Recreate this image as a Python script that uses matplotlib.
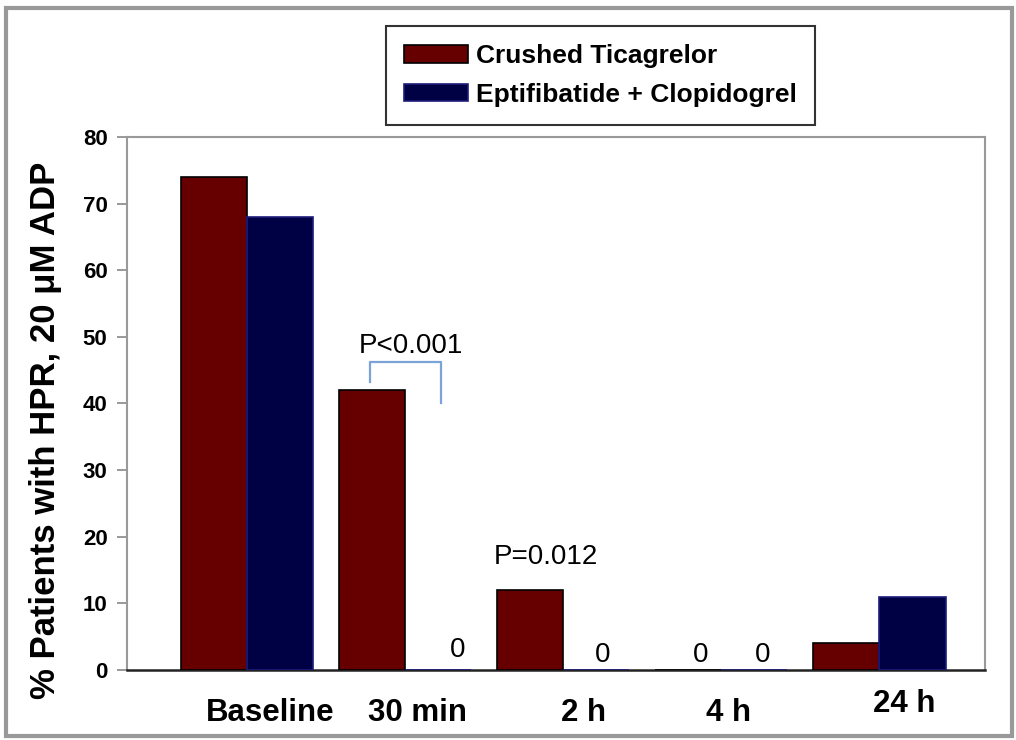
import matplotlib
matplotlib.use("Agg")
import matplotlib.pyplot as plt
import matplotlib.patches as mpatches
import numpy as np

categories = ["Baseline", "30 min", "2 h", "4 h", "24 h"]
ticagrelor = [74, 42, 12, 0, 4]
eptifibatide = [68, 0, 0, 0, 11]
series_names = ["Crushed Ticagrelor", "Eptifibatide + Clopidogrel"]
yticks = [0, 10, 20, 30, 40, 50, 60, 70, 80]
zero_labels = ["0", "0", "0", "0"]
pvalues = ["P<0.001", "P=0.012"]

plt.rcParams['font.family'] = ['Liberation Sans', 'DejaVu Sans']

fig = plt.figure(figsize=(10.16, 7.4), dpi=100)
ax = fig.add_axes([0.125, 0.0946, 0.8445, 0.7203])

x = np.arange(len(categories))
w = 0.42
red = "#660000"
navy = "#000045"
ax.bar(x - w/2, ticagrelor, w, color=red, edgecolor="black", linewidth=1.2, zorder=3)
ax.bar(x + w/2, eptifibatide, w, color=navy, edgecolor="#1c1c7a", linewidth=1.2, zorder=3)

ax.set_xlim(-0.76, 4.67)
ax.set_ylim(0, 80)
ax.set_yticks(yticks)
ax.set_yticklabels([str(v) for v in yticks], fontsize=16, fontweight='bold')
ax.set_xticks([])
ax.tick_params(axis='y', length=7, width=1.2, color='#888888', pad=7)
for s in ['top', 'right', 'left']:
    ax.spines[s].set_color('#999999')
    ax.spines[s].set_linewidth(1.5)
ax.spines['bottom'].set_color('#222222')
ax.spines['bottom'].set_linewidth(1.8)

ax.set_ylabel("% Patients with HPR, 20 μM ADP", fontsize=25, fontweight='bold')
ax.yaxis.set_label_coords(-0.076, 0.45)

# x category labels
xl_off = [0.146, 0.08, 0.13, 0.05, 0.16]
xl_y = [-0.08, -0.08, -0.08, -0.08, -0.063]
for i, c in enumerate(categories):
    t = ax.text(x[i] + xl_off[i], 0, c, transform=ax.get_xaxis_transform(), fontsize=22.5,
                fontweight='bold', ha='center', va='center', clip_on=False)
    t.set_y(xl_y[i])

# zero annotations
zpos = [(1.33, 3.0), (2.25, 2.3), (2.87, 2.3), (3.26, 2.3)]
for (zx, zy), t in zip(zpos, zero_labels):
    ax.text(zx, zy, t, fontsize=20, ha='center', va='center', zorder=4)

# p-values
ax.text(1.04, 48.6, pvalues[0], fontsize=20, ha='center', va='center')
ax.text(1.89, 17.0, pvalues[1], fontsize=20, ha='center', va='center')
ax.plot([0.78, 0.78, 1.23, 1.23], [43.2, 46.2, 46.2, 40.0], color='#7aa3d6', lw=1.6, zorder=4)

# legend
handles = [mpatches.Patch(facecolor=red, edgecolor='black', linewidth=1.2),
           mpatches.Patch(facecolor=navy, edgecolor='#1c1c7a', linewidth=1.2)]
leg = fig.legend(handles, series_names, loc='upper center', bbox_to_anchor=(0.591, 0.965),
                 fancybox=False, frameon=True, edgecolor='#333333', framealpha=1,
                 prop={'family': 'Liberation Sans', 'weight': 'bold', 'size': 19},
                 handlelength=2.4, handleheight=0.65, labelspacing=0.55, borderpad=0.7,
                 handletextpad=0.3, borderaxespad=0)
leg.get_frame().set_linewidth(1.5)

# outer border
fig.patches.append(mpatches.Rectangle((0.006, 0.005), 0.99, 0.984, transform=fig.transFigure,
                                      fill=False, edgecolor='#999999', linewidth=3))

fig.savefig("out.png", dpi=100)
